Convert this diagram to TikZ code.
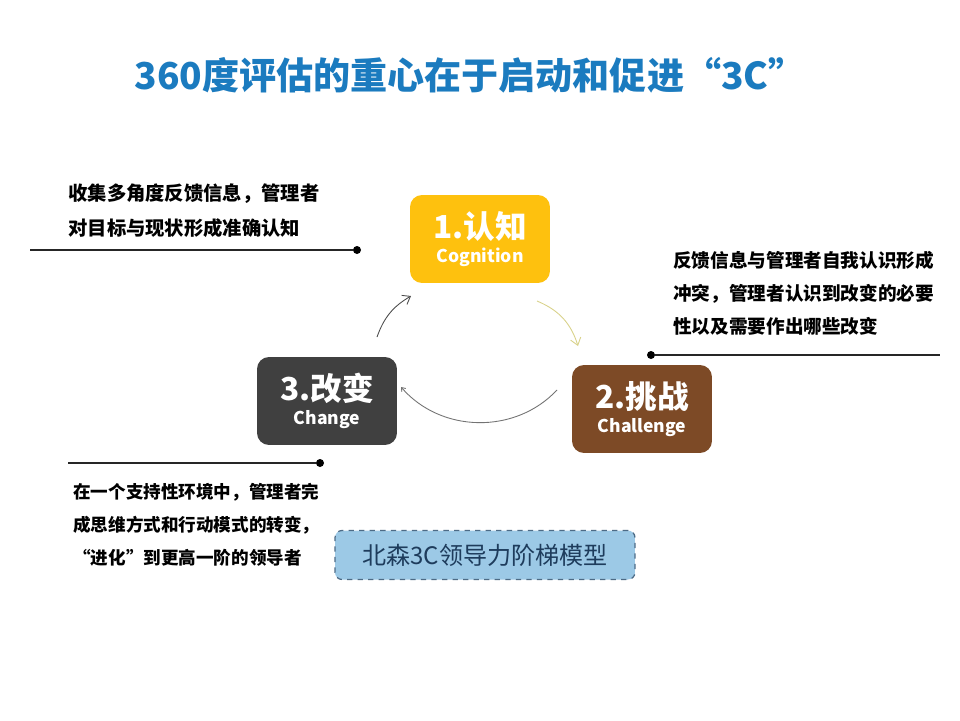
\documentclass[tikz,border=0pt]{standalone}
\usepackage{fontspec}
\setmainfont{Noto Sans CJK SC}
\usetikzlibrary{arrows.meta}
\definecolor{titleblue}{HTML}{1B7BBF}
\definecolor{cogyellow}{HTML}{FEC10E}
\definecolor{chalbrown}{HTML}{7D4A26}
\definecolor{chggrey}{HTML}{404040}
\definecolor{modelfill}{HTML}{9CC9E6}
\definecolor{modeledge}{HTML}{4D6B86}
\definecolor{modeltext}{HTML}{1E3C5C}
\definecolor{arrowyellow}{HTML}{D9D28A}
\tikzset{
  stage/.style={rounded corners=0.24cm, minimum width=2.8cm, minimum height=1.76cm,
    text=white, align=center, inner sep=0pt, font=\bfseries},
  note/.style={anchor=west, align=left, inner sep=0pt, font=\bfseries},
  leader/.style={line width=0.6pt, black!85},
  dot/.style={circle, fill=black, inner sep=0pt, minimum size=0.16cm},
  cycle/.style={line width=0.5pt, -{Straight Barb[length=4pt,width=6pt]}},
}
\newcommand{\stagetext}[2]{{\fontsize{18pt}{20pt}\selectfont #1}\\[2pt]{\fontsize{10pt}{12pt}\selectfont #2}}
\begin{document}
\begin{tikzpicture}[x=0.02cm, y=-0.02cm]
\useasboundingbox[fill=white] (0,0) rectangle (960,720);
% title
\node[font=\bfseries\fontsize{21.1pt}{24pt}\selectfont, text=titleblue] (title) at (470,75) {360度评估的重心在于启动和促进“3C”};
% the three stages
\node[stage, fill=cogyellow] (cog) at (480,239) {\stagetext{1.认知}{Cognition}};
\node[stage, fill=chalbrown] (chal) at (642,409) {\stagetext{2.挑战}{Challenge}};
\node[stage, fill=chggrey] (chg) at (327,401) {\stagetext{3.改变}{Change}};
% cycle arrows
\coordinate (chgout) at (377,337);
\coordinate (cogin) at (411,296);
\coordinate (cogout) at (537,301);
\coordinate (chalin) at (578,346);
\coordinate (chalout) at (557,390);
\coordinate (chgin) at (401,387);
\draw[cycle, black!70] (chgout) to[bend left=20] (cogin);
\draw[cycle, arrowyellow] (cogout) to[bend left=25] (chalin);
\draw[cycle, black!55, -{Straight Barb[length=2pt,width=3pt]}] (chalout) to[bend left=48] (chgin);
% notes with leaders
\node[note, font=\bfseries\fontsize{11pt}{19.9pt}\selectfont] (cognote) at (68,211) {收集多角度反馈信息，管理者\\对目标与现状形成准确认知};
\coordinate (cogl) at (30,250);
\node[dot] (cogdot) at (357,250) {};
\draw[leader] (cogl) -- (cogdot);
\node[note, font=\bfseries\fontsize{10.6pt}{18.8pt}\selectfont] (chalnote) at (673,293) {反馈信息与管理者自我认识形成\\冲突，管理者认识到改变的必要\\性以及需要作出哪些改变};
\node[dot] (chaldot) at (651,355) {};
\coordinate (chalr) at (940,355);
\draw[leader] (chaldot) -- (chalr);
\coordinate (chgl) at (68,463);
\node[dot] (chgdot) at (320,463) {};
\draw[leader] (chgl) -- (chgdot);
\node[note, font=\bfseries\fontsize{10pt}{18.8pt}\selectfont] (chgnote) at (73,525) {在一个支持性环境中，管理者完\\成思维方式和行动模式的转变，\\“进化”到更高一阶的领导者};
% model label
\node[draw=modeledge, dashed, fill=modelfill, rounded corners=0.14cm, line width=0.7pt,
  minimum width=6cm, minimum height=0.98cm, text=modeltext,
  font=\fontsize{13.7pt}{16pt}\selectfont] (model) at (485,555) {北森3C领导力阶梯模型};
\end{tikzpicture}
\end{document}
